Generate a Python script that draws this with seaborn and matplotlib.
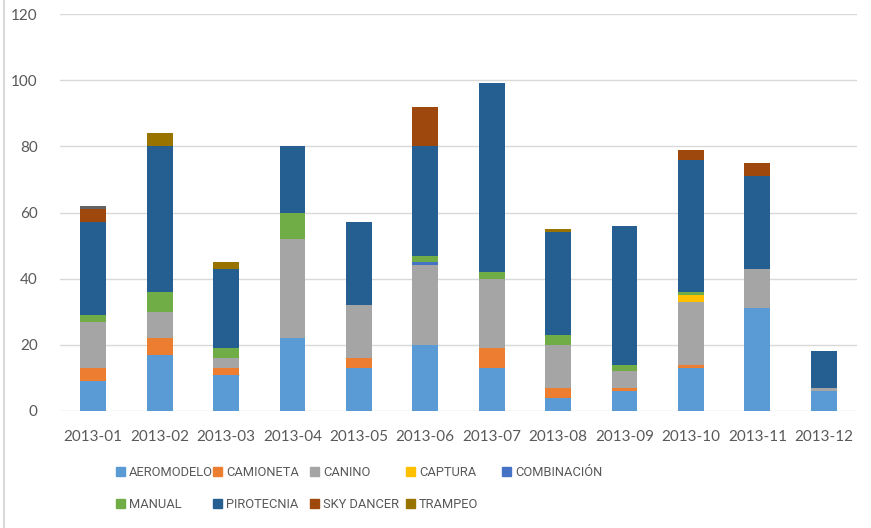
import matplotlib
matplotlib.use("Agg")
import matplotlib.pyplot as plt
from matplotlib.lines import Line2D
import numpy as np
import pandas as pd
import seaborn as sns

months = ["2013-01", "2013-02", "2013-03", "2013-04", "2013-05", "2013-06",
          "2013-07", "2013-08", "2013-09", "2013-10", "2013-11", "2013-12"]
aeromodelo  = [9, 17, 11, 22, 13, 20, 13, 4, 6, 13, 31, 6]
camioneta   = [4, 5, 2, 0, 3, 0, 6, 3, 1, 1, 0, 0]
canino      = [14, 8, 3, 30, 16, 24, 21, 13, 5, 19, 12, 1]
captura     = [0, 0, 0, 0, 0, 0, 0, 0, 0, 2, 0, 0]
combinacion = [0, 0, 0, 0, 0, 1, 0, 0, 0, 0, 0, 0]
manual      = [2, 6, 3, 8, 0, 2, 2, 3, 2, 1, 0, 0]
pirotecnia  = [28, 44, 24, 20, 25, 33, 57, 31, 42, 40, 28, 11]
sky_dancer  = [4, 0, 0, 0, 0, 12, 0, 0, 0, 3, 4, 0]
trampeo     = [0, 4, 2, 0, 0, 0, 0, 1, 0, 0, 0, 0]
otros       = [1, 0, 0, 0, 0, 0, 0, 0, 0, 0, 0, 0]

series_names = ["AEROMODELO", "CAMIONETA", "CANINO", "CAPTURA", "COMBINACIÓN",
                "MANUAL", "PIROTECNIA", "SKY DANCER", "TRAMPEO", "OTROS"]
series_vals = [aeromodelo, camioneta, canino, captura, combinacion,
               manual, pirotecnia, sky_dancer, trampeo, otros]
colors = ["#5B9BD5", "#ED7D31", "#A5A5A5", "#FFC000", "#4472C4",
          "#70AD47", "#255E91", "#9E480E", "#997300", "#636363"]

W, H = 871, 528
fig = plt.figure(figsize=(W / 100, H / 100), dpi=100)
ax = fig.add_axes([60 / W, (H - 411) / H, (857 - 60) / W, (411 - 14) / H])

font = "Lato"
leg_font = "Roboto"
leg_size = 9.3
txt_color = "#595959"

cum = np.cumsum(np.array(series_vals, dtype=float), axis=0)
handles = {}
for i in range(len(series_names) - 1, -1, -1):
    df = pd.DataFrame({"month": months, "value": cum[i]})
    sns.barplot(data=df, x="month", y="value", color=colors[i], width=0.39,
                saturation=1, ax=ax, zorder=3, linewidth=0)
    handles[series_names[i]] = plt.Rectangle((0, 0), 1, 1, color=colors[i])

ax.set_xlim(-0.5, 11.5)
ax.set_ylim(0, 120)
ax.set_yticks(range(0, 121, 20))
ax.yaxis.grid(True, color="#D9D9D9", linewidth=1.0, zorder=0)
ax.set_axisbelow(True)
for s in ["top", "right", "left", "bottom"]:
    ax.spines[s].set_visible(False)
ax.set_xlabel("")
ax.set_ylabel("")
ax.tick_params(axis="both", length=0, colors=txt_color, labelsize=11)
ax.tick_params(axis="y", pad=16)
ax.tick_params(axis="x", pad=14)
for lab in ax.get_xticklabels() + ax.get_yticklabels():
    lab.set_fontfamily(font)

# legend: columns laid out like the original (row-wise order)
cols = [["AEROMODELO", "MANUAL"], ["CAMIONETA", "PIROTECNIA"],
        ["CANINO", "SKY DANCER"], ["CAPTURA", "TRAMPEO"], ["COMBINACIÓN"]]
col_x = [116, 213, 310, 406, 502]
for names, x in zip(cols, col_x):
    leg = fig.legend([handles[n] for n in names], names,
                     loc="upper left", bbox_to_anchor=(x / W, (H - 466) / H),
                     frameon=False, borderpad=0, borderaxespad=0,
                     handlelength=0.7, handleheight=0.7, handletextpad=0.3,
                     labelspacing=1.5,
                     prop={"family": leg_font, "size": leg_size})
    for t in leg.get_texts():
        t.set_color(txt_color)

fig.add_artist(Line2D([3.5 / W, 3.5 / W], [0, 1], color="#D9D9D9",
                      linewidth=1.5, transform=fig.transFigure))

fig.savefig("out.png", dpi=100)
